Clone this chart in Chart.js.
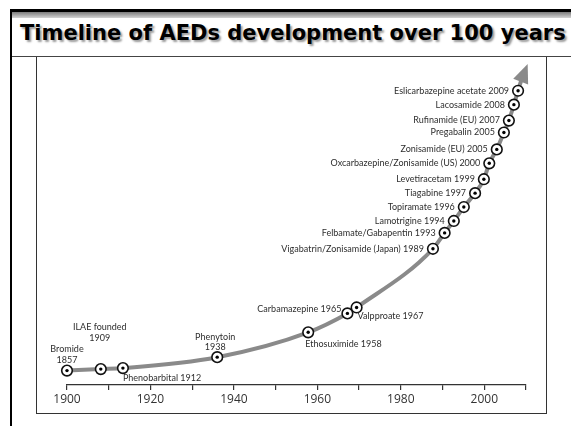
<!DOCTYPE html>
<html>
<head>
<meta charset="utf-8">
<script src="https://cdn.jsdelivr.net/npm/chart.js@4.4.1/dist/chart.umd.min.js"></script>
<style>
  body { margin: 0; background: #fff; }
  #page { position: relative; width: 571px; height: 426px; overflow: hidden; background: #fff; }
  #topline { position: absolute; left: 10px; top: 9px; width: 561px; height: 3px; background: #000; }
  #band { position: absolute; left: 12px; top: 12px; width: 559px; height: 6px; background: linear-gradient(#7c7c7c, #d4d4d4); }
  #leftline { position: absolute; left: 10px; top: 9px; width: 2px; height: 417px; background: #000; }
  #title { position: absolute; left: 20px; top: 20px; font: bold 21px "DejaVu Sans"; line-height: 26px;
           color: #000; white-space: nowrap; text-shadow: 2px 2px 2px #9a9a9a; }
  #rule { position: absolute; left: 12px; top: 56px; width: 559px; height: 1px; background: #444; }
  #frame { position: absolute; left: 36px; top: 57px; width: 511px; height: 357px; box-sizing: border-box;
           border-left: 1px solid #333; border-right: 1px solid #333; border-bottom: 1px solid #333; }
  #chartBox { position: absolute; left: 0; top: 0; width: 509px; height: 355px; }
</style>
</head>
<body>
<div id="page">
  <div id="topline"></div>
  <div id="band"></div>
  <div id="leftline"></div>
  <div id="title">Timeline of AEDs development over 100 years</div>
  <div id="rule"></div>
  <div id="frame">
    <div id="chartBox"><canvas id="aedChart"></canvas></div>
  </div>
</div>

<script>
// drug / event names and the year written next to each one
const drugNames = ['Bromide', 'ILAE founded', 'Phenobarbital', 'Phenytoin', 'Ethosuximide', 'Carbamazepine',
  'Valpproate', 'Vigabatrin/Zonisamide (Japan)', 'Felbamate/Gabapentin', 'Lamotrigine', 'Topiramate',
  'Tiagabine', 'Levetiracetam', 'Oxcarbazepine/Zonisamide (US)', 'Zonisamide (EU)', 'Pregabalin',
  'Rufinamide (EU)', 'Lacosamide', 'Eslicarbazepine acetate'];
const drugYears = [1857, 1909, 1912, 1938, 1958, 1965, 1967, 1989, 1993, 1994, 1996, 1997, 1999, 2000,
  2005, 2005, 2007, 2008, 2009];

// where each marker sits on the curve (x in axis years, y = height of the curve)
const curveX = [1900, 1908.1, 1913.4, 1936.0, 1957.8, 1967.2, 1969.4, 1987.7, 1990.5, 1992.7, 1995.1,
  1997.8, 1999.9, 2001.2, 2003.0, 2004.7, 2005.9, 2007.1, 2008.1];
const curveY = [14.5, 16, 17, 28, 53, 72, 78, 137, 153, 165, 179, 193, 207, 223, 237, 254, 266, 282, 296];

// end of the curve: base of the arrow head and its tip
const arrowBase = [2008.9, 307];
const arrowTip = [2010.4, 323];

// x axis ticks every 10 years, labelled every 20
const axisMin = 1900;
const axisMax = 2010;
const tickStep = 10;
const labelStep = 20;

const markerPoints = curveX.map((x, i) => ({ x: x, y: curveY[i] }));
const linePoints = markerPoints.concat([{ x: arrowBase[0], y: arrowBase[1] }]);

const LINE_GREY = '#8a8a8a';
const LABEL_FONT = '9px Lato';

// how each label sits around its marker (styling only)
const labelPlacement = {
  0: { type: 'stack', dx: 0, dy1: -21, dy2: -10 },
  1: { type: 'stack', dx: -1, dy1: -42, dy2: -31 },
  2: { type: 'after', dx: 0, dy: 10 },
  3: { type: 'stack', dx: -2, dy1: -20, dy2: -10 },
  4: { type: 'after', dx: -3, dy: 12 },
  5: { type: 'before', dx: -6, dy: -4 },
  6: { type: 'after', dx: 1, dy: 9 }
};

const arrowPlugin = {
  id: 'arrowHead',
  afterDatasetsDraw(chart) {
    const xs = chart.scales.x, ys = chart.scales.y;
    const bx = xs.getPixelForValue(arrowBase[0]), by = ys.getPixelForValue(arrowBase[1]);
    const tx = xs.getPixelForValue(arrowTip[0]), ty = ys.getPixelForValue(arrowTip[1]);
    const len = Math.hypot(tx - bx, ty - by);
    const ux = (tx - bx) / len, uy = (ty - by) / len;
    const half = 8;
    const ctx = chart.ctx;
    ctx.save();
    ctx.fillStyle = LINE_GREY;
    ctx.beginPath();
    ctx.moveTo(tx, ty);
    ctx.lineTo(bx - uy * half - ux * 2, by + ux * half - uy * 2);
    ctx.lineTo(bx + uy * half - ux * 2, by - ux * half - uy * 2);
    ctx.closePath();
    ctx.fill();
    ctx.restore();
  }
};

const labelPlugin = {
  id: 'drugLabels',
  afterDatasetsDraw(chart) {
    const xs = chart.scales.x, ys = chart.scales.y;
    const ctx = chart.ctx;
    ctx.save();
    ctx.font = LABEL_FONT;
    ctx.fillStyle = '#2e2e2e';
    ctx.textBaseline = 'middle';
    drugNames.forEach((name, i) => {
      const px = xs.getPixelForValue(curveX[i]);
      const py = ys.getPixelForValue(curveY[i]);
      const p = labelPlacement[i] || { type: 'before', dx: -9, dy: 0 };
      if (p.type === 'stack') {
        ctx.textAlign = 'center';
        ctx.fillText(name, px + p.dx, py + p.dy1);
        ctx.fillText(String(drugYears[i]), px + p.dx, py + p.dy2);
      } else {
        ctx.textAlign = p.type === 'after' ? 'left' : 'right';
        ctx.fillText(name + ' ' + drugYears[i], px + p.dx, py + p.dy);
      }
    });
    ctx.restore();
  }
};

new Chart(document.getElementById('aedChart'), {
  type: 'line',
  data: {
    datasets: [
      {
        label: 'dots',
        data: markerPoints,
        showLine: false,
        pointRadius: 1.7,
        pointBackgroundColor: '#000',
        pointBorderWidth: 0,
        order: 1,
        clip: false
      },
      {
        label: 'markers',
        data: markerPoints,
        showLine: false,
        pointRadius: 5.3,
        pointBackgroundColor: '#fff',
        pointBorderColor: '#111',
        pointBorderWidth: 1.6,
        order: 2,
        clip: false
      },
      {
        label: 'timeline',
        data: linePoints,
        borderColor: LINE_GREY,
        borderWidth: 4,
        pointRadius: 0,
        cubicInterpolationMode: 'monotone',
        order: 3,
        clip: false
      }
    ]
  },
  options: {
    responsive: true,
    maintainAspectRatio: false,
    animation: false,
    events: [],
    layout: { padding: { left: 30, right: 20, top: 5, bottom: 0 } },
    plugins: { legend: { display: false }, tooltip: { enabled: false } },
    scales: {
      x: {
        type: 'linear',
        min: axisMin,
        max: axisMax,
        afterFit(scale) { scale.height = 27; },
        border: { display: true, color: '#333', width: 1.2 },
        grid: { display: true, drawOnChartArea: false, drawTicks: true, tickLength: 5, color: '#333', lineWidth: 1.2 },
        ticks: {
          stepSize: tickStep,
          autoSkip: false,
          maxRotation: 0,
          padding: 2,
          color: '#333',
          font: { family: 'Open Sans', size: 12 },
          callback: v => (v % labelStep === 0 ? String(v) : '')
        }
      },
      y: { display: false, min: 0, max: 323 }
    }
  },
  plugins: [arrowPlugin, labelPlugin]
});
</script>
</body>
</html>
